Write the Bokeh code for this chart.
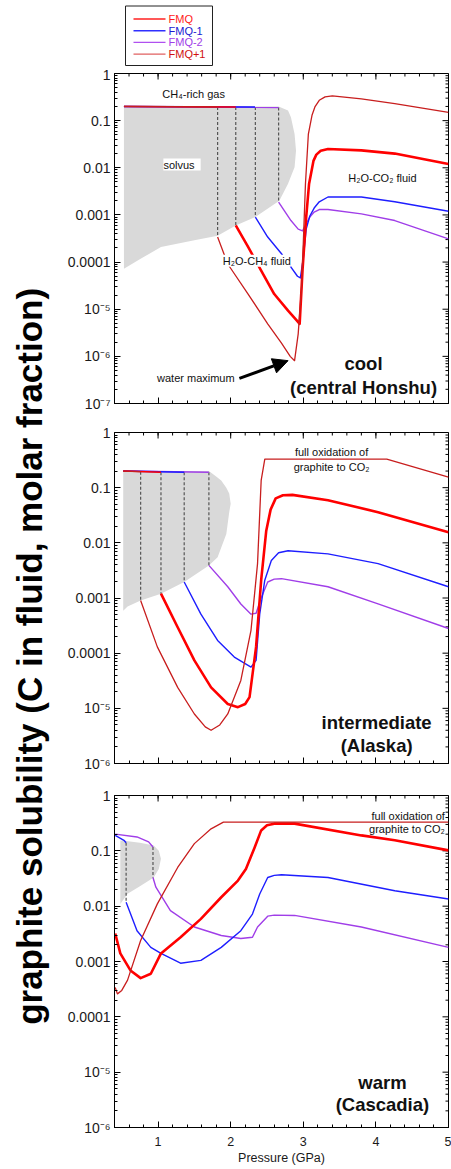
import math
from bokeh.plotting import figure
from bokeh.layouts import row, column
from bokeh.models import (Range1d, FixedTicker, CustomJSTickFormatter,
                          Label, Arrow, NormalHead, ColumnDataSource)
from bokeh.embed import file_html
from bokeh.resources import INLINE
from bokeh.core.properties import value

FONT = "Liberation Sans"

# ---------------- series / legend ----------------
series_names = ["FMQ", "FMQ-1", "FMQ-2", "FMQ+1"]
series_colors = ["#ff0000", "#1e1eff", "#a03ee8", "#c81e1e"]
legend_line_colors = ["#ff2020", "#3030ff", "#b050f0", "#e06060"]
legend_text_colors = ["#ff1a1a", "#1a1ad2", "#a03ee8", "#d01010"]
series_widths = [2.6, 1.4, 1.4, 1.3]

# ---------------- axes ----------------
x_major_ticks = [1, 2, 3, 4, 5]
x_minor_ticks = [round(0.4 + 0.2 * i, 1) for i in range(24)]
y_ticks_cool = [1, 0.1, 0.01, 0.001, 1e-4, 1e-5, 1e-6, 1e-7]
y_labels_cool = ["1", "0.1", "0.01", "0.001", "0.0001", "10⁻⁵", "10⁻⁶", "10⁻⁷"]
y_ticks_6 = [1, 0.1, 0.01, 0.001, 1e-4, 1e-5, 1e-6]
y_labels_6 = ["1", "0.1", "0.01", "0.001", "0.0001", "10⁻⁵", "10⁻⁶"]

# ---------------- cool (central Honshu) ----------------
cool_solvus_p = [0.53, 2.66, 2.79, 2.83, 2.88, 2.90, 2.88, 2.79, 2.67, 2.34, 2.07, 1.82, 1.50, 1.04, 0.76, 0.53]
cool_solvus_x = [0.2, 0.2, 0.165, 0.118, 0.052, 0.023, 0.0103, 0.0046, 0.002, 9e-4, 6e-4, 3.6e-4, 2.9e-4, 2.1e-4, 1.17e-4, 7.2e-5]

cool_fmq_gas_p = [0.53, 2.07]
cool_fmq_gas_x = [0.2, 0.195]
cool_fmq_p = [2.07, 2.24, 2.42, 2.60, 2.79, 2.90, 2.95, 2.99, 3.04, 3.08, 3.14, 3.18, 3.24, 3.34, 3.80, 4.26, 5.0]
cool_fmq_x = [6.0e-4, 2.1e-4, 6.6e-5, 2.1e-5, 9.3e-6, 6e-6, 4.9e-6, 7e-5, 9e-4, 4.6e-3, 0.014, 0.019, 0.023, 0.025, 0.0234, 0.02, 0.012]

cool_fmqm1_gas_p = [0.53, 2.34]
cool_fmqm1_gas_x = [0.2, 0.195]
cool_fmqm1_p = [2.34, 2.51, 2.70, 2.83, 2.92, 2.96, 3.00, 3.04, 3.09, 3.15, 3.22, 3.34, 3.80, 4.26, 5.0]
cool_fmqm1_x = [9e-4, 3.4e-4, 1.5e-4, 7.8e-5, 5e-5, 4.6e-5, 1.2e-4, 5e-4, 9.5e-4, 1.4e-3, 1.9e-3, 2.4e-3, 2.4e-3, 1.9e-3, 1.2e-3]

cool_fmqm2_gas_p = [0.53, 2.66]
cool_fmqm2_gas_x = [0.2, 0.19]
cool_fmqm2_p = [2.66, 2.83, 2.93, 2.99, 3.04, 3.09, 3.15, 3.22, 3.34, 3.80, 4.26, 5.0]
cool_fmqm2_x = [1.86e-3, 7.6e-4, 5.0e-4, 4.6e-4, 6.5e-4, 9e-4, 1.15e-3, 1.3e-3, 1.3e-3, 1.05e-3, 7.6e-4, 3.1e-4]

cool_fmqp1_gas_p = [0.53, 1.82]
cool_fmqp1_gas_x = [0.2, 0.195]
cool_fmqp1_p = [1.82, 1.96, 2.24, 2.51, 2.70, 2.82, 2.88, 2.93, 2.98, 3.03, 3.07, 3.12, 3.16, 3.22, 3.30, 3.40, 3.60, 3.80, 4.26, 5.0]
cool_fmqp1_x = [3.4e-4, 9.1e-5, 2.1e-5, 4.9e-6, 1.9e-6, 1.0e-6, 8.1e-7, 3e-6, 3.5e-5, 4.6e-3, 0.052, 0.13, 0.195, 0.27, 0.32, 0.335, 0.31, 0.29, 0.23, 0.15]

# ---------------- intermediate (Alaska) ----------------
int_solvus_p = [0.52, 1.70, 1.80, 1.87, 1.94, 1.98, 2.0, 1.98, 1.94, 1.82, 1.70, 1.36, 1.04, 0.76, 0.58, 0.52]
int_solvus_x = [0.2, 0.2, 0.16, 0.135, 0.1, 0.078, 0.051, 0.036, 0.0145, 0.0055, 0.0039, 1.95e-3, 1.2e-3, 9e-4, 7e-4, 5.9e-4]

int_fmq_gas_p = [0.52, 1.04]
int_fmq_gas_x = [0.2, 0.19]
int_fmq_p = [1.04, 1.27, 1.50, 1.73, 1.96, 2.10, 2.20, 2.26, 2.35, 2.42, 2.49, 2.55, 2.62, 2.72, 2.85, 3.34, 4.03, 5.0]
int_fmq_x = [1.2e-3, 2.95e-4, 7.4e-5, 2.4e-5, 1.2e-5, 1.05e-5, 1.2e-5, 1.6e-5, 1.3e-4, 2.1e-3, 0.0166, 0.04, 0.064, 0.073, 0.074, 0.059, 0.036, 0.0155]

int_fmqm1_gas_p = [0.52, 1.36]
int_fmqm1_gas_x = [0.2, 0.19]
int_fmqm1_p = [1.36, 1.59, 1.82, 2.05, 2.28, 2.35, 2.40, 2.47, 2.56, 2.66, 2.79, 3.34, 4.03, 5.0]
int_fmqm1_x = [1.95e-3, 5.1e-4, 1.7e-4, 8.5e-5, 5.6e-5, 7.4e-5, 5.1e-4, 2.1e-3, 4.8e-3, 6.6e-3, 7.2e-3, 6.3e-3, 4.2e-3, 1.6e-3]

int_fmqm2_gas_p = [0.52, 1.70]
int_fmqm2_gas_x = [0.2, 0.19]
int_fmqm2_p = [1.70, 1.96, 2.14, 2.28, 2.35, 2.42, 2.51, 2.60, 2.70, 3.34, 4.03, 5.0]
int_fmqm2_x = [3.9e-3, 1.6e-3, 7.8e-4, 5.1e-4, 5.3e-4, 1.0e-3, 1.95e-3, 2.2e-3, 2.24e-3, 1.6e-3, 7.8e-4, 2.8e-4]

int_fmqp1_gas_p = [0.52, 0.76]
int_fmqp1_gas_x = [0.2, 0.195]
int_fmqp1_p = [0.76, 0.99, 1.27, 1.50, 1.65, 1.73, 1.85, 1.96, 2.14, 2.28, 2.37, 2.42, 2.47, 4.15, 5.0]
int_fmqp1_x = [9e-4, 1.3e-4, 2.4e-5, 7.9e-6, 4.6e-6, 4.0e-6, 5.0e-6, 7.9e-6, 3.2e-5, 2.6e-4, 4.2e-3, 0.135, 0.33, 0.33, 0.155]

# ---------------- warm (Cascadia) ----------------
warm_solvus_p = [0.48, 0.56, 0.75, 0.94, 1.01, 1.04, 1.01, 0.94, 0.75, 0.58, 0.48]
warm_solvus_x = [0.154, 0.15, 0.14, 0.125, 0.1, 0.072, 0.047, 0.033, 0.023, 0.0167, 0.011]

warm_fmq_p = [0.41, 0.48, 0.62, 0.76, 0.90, 1.04, 1.31, 1.59, 1.87, 2.10, 2.21, 2.33, 2.42, 2.50, 2.60, 2.88, 3.80, 4.26, 5.0]
warm_fmq_x = [3.2e-3, 1.4e-3, 6.9e-4, 5.0e-4, 6.0e-4, 1.4e-3, 2.75e-3, 5.9e-3, 0.0145, 0.029, 0.047, 0.115, 0.234, 0.29, 0.31, 0.31, 0.19, 0.155, 0.102]

warm_fmqm1_gas_p = [0.41, 0.53, 0.56]
warm_fmqm1_gas_x = [0.19, 0.155, 0.14]
warm_fmqm1_p = [0.56, 0.71, 0.90, 1.04, 1.31, 1.59, 1.87, 2.14, 2.30, 2.40, 2.51, 2.60, 2.70, 3.34, 4.26, 5.0]
warm_fmqm1_x = [0.0118, 3.6e-3, 1.8e-3, 1.4e-3, 9.3e-4, 1.05e-3, 1.8e-3, 3.6e-3, 7.2e-3, 0.0166, 0.033, 0.036, 0.037, 0.033, 0.019, 0.0135]

warm_fmqm2_gas_p = [0.41, 0.71, 0.87, 0.93]
warm_fmqm2_gas_x = [0.2, 0.178, 0.145, 0.117]
warm_fmqm2_p = [0.93, 0.97, 1.17, 1.50, 1.87, 2.14, 2.30, 2.37, 2.51, 2.60, 2.88, 3.80, 5.0]
warm_fmqm2_x = [0.033, 0.022, 8.3e-3, 4.2e-3, 2.95e-3, 2.6e-3, 2.75e-3, 4.2e-3, 6.6e-3, 6.9e-3, 6.8e-3, 4.2e-3, 1.8e-3]

warm_fmqp1_p = [0.41, 0.44, 0.50, 0.58, 0.76, 0.99, 1.27, 1.50, 1.73, 1.90, 5.0]
warm_fmqp1_x = [3.4e-4, 2.6e-4, 3.0e-4, 4.6e-4, 2.4e-3, 0.011, 0.05, 0.135, 0.25, 0.33, 0.33]

y_title = "graphite solubility  (C in fluid, molar fraction)"
x_title = "Pressure (GPa)"

# ---------------- layout constants (page pixels) ----------------
LEFT_W = 58
COL_W = 393
B_LEFT = 56
B_RIGHT = 3
PAGE_H = 1169


def minor_log(lo):
    e0 = int(round(math.log10(lo)))
    return [k * 10.0 ** e for e in range(e0, 0) for k in range(2, 10)]


def label_formatter(vals, labs):
    return CustomJSTickFormatter(args=dict(vals=vals, labs=labs), code="""
        const lv = Math.log10(tick);
        for (let i = 0; i < vals.length; i++) {
            if (Math.abs(lv - Math.log10(vals[i])) < 1e-3) { return labs[i]; }
        }
        return "";
    """)


def style_axis(ax, size):
    ax.major_tick_in = 6
    ax.major_tick_out = 0
    ax.minor_tick_in = 3
    ax.minor_tick_out = 0
    ax.axis_line_color = "black"
    ax.major_tick_line_color = "black"
    ax.minor_tick_line_color = "black"
    ax.major_label_text_font = FONT
    ax.major_label_text_color = "#1a1a1a"
    ax.major_label_text_font_size = size


def make_panel(height, top_b, bot_b, y_lo, y_ticks, y_labels, solvus_p, solvus_x, curves, show_x):
    p = figure(width=COL_W, height=height, x_range=Range1d(0.4, 5.0), y_range=Range1d(y_lo, 1.0),
               y_axis_type="log", toolbar_location=None, output_backend="svg",
               min_border_left=B_LEFT, min_border_right=B_RIGHT,
               min_border_top=top_b, min_border_bottom=bot_b)
    p.grid.visible = False
    p.outline_line_color = "black"
    p.outline_line_width = 1

    xt = FixedTicker(ticks=x_major_ticks, minor_ticks=x_minor_ticks)
    y_minor = minor_log(y_lo)
    yt = FixedTicker(ticks=y_ticks, minor_ticks=y_minor)

    xa = p.xaxis[0]
    xa.ticker = xt
    style_axis(xa, "12.5px")
    if show_x:
        xa.major_label_standoff = 9
        xa.axis_label = x_title
        xa.axis_label_text_font = FONT
        xa.axis_label_text_font_size = "12.5px"
        xa.axis_label_text_font_style = "normal"
        xa.axis_label_text_color = "#1a1a1a"
        xa.axis_label_standoff = 2
    else:
        xa.major_label_text_color = None
        xa.major_label_text_font_size = "1px"
        xa.major_label_standoff = 0
        xa.formatter = CustomJSTickFormatter(code="return ' '")

    ya = p.yaxis[0]
    ya.ticker = yt
    ya.formatter = label_formatter(y_ticks, y_labels)
    style_axis(ya, "14px")
    ya.major_label_standoff = 4

    # mirrored inward ticks on the top and right edges
    p.ray(x=x_major_ticks, y=[1.0] * len(x_major_ticks), length=6, length_units="screen",
          angle=-math.pi / 2, line_color="black", line_width=1)
    p.ray(x=x_minor_ticks, y=[1.0] * len(x_minor_ticks), length=3, length_units="screen",
          angle=-math.pi / 2, line_color="black", line_width=1)
    p.ray(x=[5.0] * len(y_ticks), y=y_ticks, length=6, length_units="screen",
          angle=math.pi, line_color="black", line_width=1)
    p.ray(x=[5.0] * len(y_minor), y=y_minor, length=3, length_units="screen",
          angle=math.pi, line_color="black", line_width=1)

    # solvus field
    p.patch(solvus_p, solvus_x, fill_color="#d9d9d9", line_color=None)

    for name, gas_p, gas_x, fl_p, fl_x in curves:
        if gas_p:
            p.segment(x0=[gas_p[-1]], y0=[gas_x[-1]], x1=[fl_p[0]], y1=[fl_x[0]],
                      line_color="#555555", line_dash="3 2", line_width=1.2)
    for name, gas_p, gas_x, fl_p, fl_x in curves:
        i = series_names.index(name)
        if gas_p:
            p.line(gas_p, gas_x, line_color=series_colors[i],
                   line_width=series_widths[i] if name != "FMQ" else 1.6, line_join="round")
        p.line(fl_p, fl_x, line_color=series_colors[i], line_width=series_widths[i], line_join="round")
    return p


def add_label(p, x, y, text, size="11px", bold=False, align="center", bg=None):
    lab = Label(x=x, y=y, text=text, text_font=FONT, text_font_size=size,
                text_font_style="bold" if bold else "normal", text_align=align,
                text_baseline="middle", text_color="#111111")
    if bg:
        lab.background_fill_color = bg
    p.add_layout(lab)


# ---------------- panels ----------------
cool_curves = [
    ("FMQ-2", cool_fmqm2_gas_p, cool_fmqm2_gas_x, cool_fmqm2_p, cool_fmqm2_x),
    ("FMQ-1", cool_fmqm1_gas_p, cool_fmqm1_gas_x, cool_fmqm1_p, cool_fmqm1_x),
    ("FMQ", cool_fmq_gas_p, cool_fmq_gas_x, cool_fmq_p, cool_fmq_x),
    ("FMQ+1", cool_fmqp1_gas_p, cool_fmqp1_gas_x, cool_fmqp1_p, cool_fmqp1_x),
]
int_curves = [
    ("FMQ-2", int_fmqm2_gas_p, int_fmqm2_gas_x, int_fmqm2_p, int_fmqm2_x),
    ("FMQ-1", int_fmqm1_gas_p, int_fmqm1_gas_x, int_fmqm1_p, int_fmqm1_x),
    ("FMQ", int_fmq_gas_p, int_fmq_gas_x, int_fmq_p, int_fmq_x),
    ("FMQ+1", int_fmqp1_gas_p, int_fmqp1_gas_x, int_fmqp1_p, int_fmqp1_x),
]
warm_curves = [
    ("FMQ-2", warm_fmqm2_gas_p, warm_fmqm2_gas_x, warm_fmqm2_p, warm_fmqm2_x),
    ("FMQ-1", warm_fmqm1_gas_p, warm_fmqm1_gas_x, warm_fmqm1_p, warm_fmqm1_x),
    ("FMQ", [], [], warm_fmq_p, warm_fmq_x),
    ("FMQ+1", [], [], warm_fmqp1_p, warm_fmqp1_x),
]

LEG_H = 66
p1 = make_panel(349, 7, 12, 1e-7, y_ticks_cool, y_labels_cool, cool_solvus_p, cool_solvus_x, cool_curves, False)
p2 = make_panel(363, 17, 15, 1e-6, y_ticks_6, y_labels_6, int_solvus_p, int_solvus_x, int_curves, False)
p3 = make_panel(PAGE_H - LEG_H - 349 - 363, 17, 42, 1e-6, y_ticks_6, y_labels_6,
                warm_solvus_p, warm_solvus_x, warm_curves, True)

# annotations - cool
add_label(p1, 1.49, 0.36, "CH₄-rich gas")
add_label(p1, 1.33, 0.0117, " solvus ", bg="white")
add_label(p1, 4.09, 6.2e-3, "H₂O-CO₂ fluid")
add_label(p1, 2.36, 1.07e-4, "H₂O-CH₄ fluid", bg="white")
add_label(p1, 1.52, 3.4e-7, "water maximum")
p1.add_layout(Arrow(end=NormalHead(size=15, fill_color="black", line_color="black"),
                    x_start=2.12, y_start=3.4e-7, x_end=2.79, y_end=8.1e-7,
                    line_width=3, line_color="black"))
add_label(p1, 3.83, 7.0e-7, "cool", size="18.5px", bold=True)
add_label(p1, 3.83, 2.2e-7, "(central Honshu)", size="18.5px", bold=True)

# annotations - intermediate
add_label(p2, 3.39, 0.45, "full oxidation of")
add_label(p2, 3.39, 0.24, "graphite to CO₂")
add_label(p2, 4.01, 5.6e-6, "intermediate", size="18.5px", bold=True)
add_label(p2, 4.01, 2.1e-6, "(Alaska)", size="18.5px", bold=True)

# annotations - warm
add_label(p3, 4.95, 0.435, "full oxidation of", align="right")
add_label(p3, 4.95, 0.25, "graphite to CO₂", align="right")
add_label(p3, 4.09, 6.5e-6, "warm", size="18.5px", bold=True)
add_label(p3, 4.09, 2.6e-6, "(Cascadia)", size="18.5px", bold=True)

# ---------------- legend strip (data units = page pixels) ----------------
frame_l = LEFT_W + B_LEFT
frame_r = LEFT_W + COL_W - B_RIGHT
leg = figure(width=COL_W, height=LEG_H, x_range=Range1d(frame_l, frame_r), y_range=Range1d(LEG_H, 0),
             x_axis_location=None, y_axis_location=None, toolbar_location=None,
             output_backend="svg", min_border_left=B_LEFT, min_border_right=B_RIGHT,
             min_border_top=0, min_border_bottom=0)
leg.grid.visible = False
leg.outline_line_color = None
leg.quad(left=[125], right=[212], top=[5.5], bottom=[65], fill_color=None, line_color="#222222", line_width=1)
leg_y = [18.5 + 11.7 * i for i in range(len(series_names))]
leg_src = ColumnDataSource(dict(y=leg_y, name=series_names, lc=legend_line_colors, tc=legend_text_colors))
leg.segment(x0=133, x1=165, y0="y", y1="y", line_color="lc", line_width=1.4, source=leg_src)
leg.text(x=168, y="y", text="name", text_color="tc", text_font=value(FONT), text_font_size="11px",
         text_baseline="middle", text_align="left", source=leg_src)

# ---------------- big y title strip ----------------
ylab = figure(width=LEFT_W, height=PAGE_H, x_range=Range1d(0, LEFT_W), y_range=Range1d(0, PAGE_H),
              x_axis_location=None, y_axis_location=None, toolbar_location=None,
              output_backend="svg", min_border=0)
ylab.grid.visible = False
ylab.outline_line_color = None
ylab.text(x=[29], y=[PAGE_H - 651], text=[y_title], angle=math.pi / 2, text_font=value(FONT),
          text_font_size="35px", text_font_style="bold", text_align="center",
          text_baseline="middle", text_color="black")

layout = row(ylab, column(leg, p1, p2, p3))
open("out.html", "w").write(file_html(layout, INLINE))
